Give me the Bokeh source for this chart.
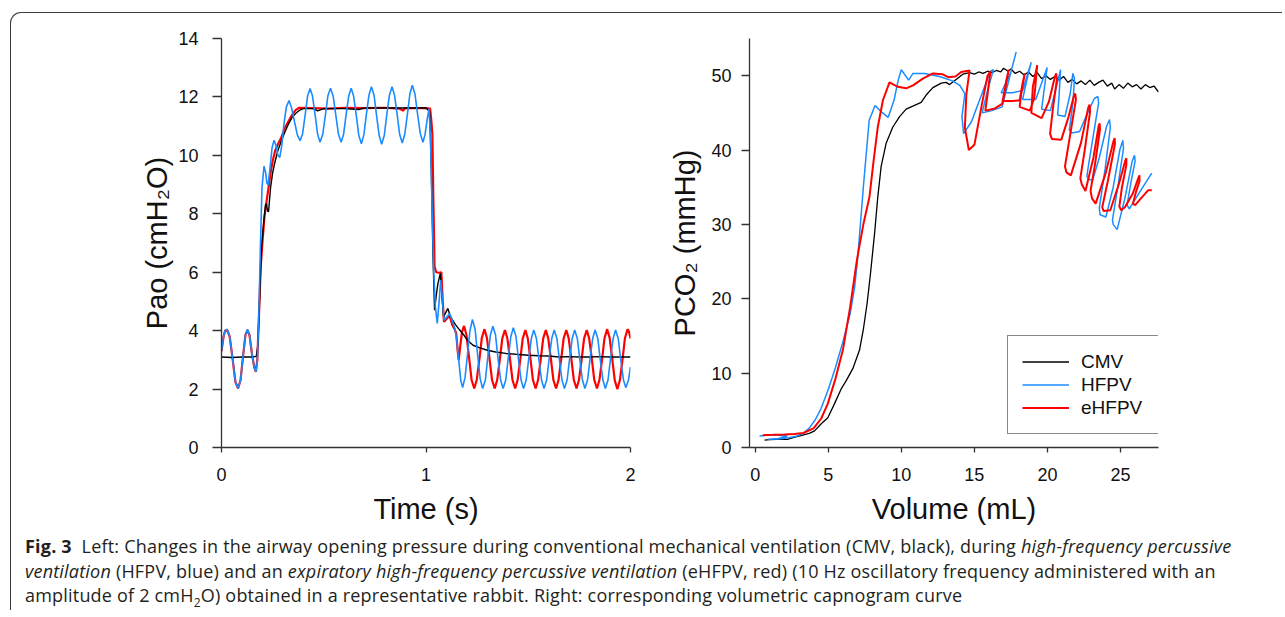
from bokeh.plotting import figure
from bokeh.layouts import row, column
from bokeh.models import Range1d, FixedTicker, Div, Legend, LegendItem
from bokeh.embed import file_html
from bokeh.resources import INLINE

# ---------------- data: left panel, airway opening pressure (cmH2O) vs time (s)
cmv_pao = [
    (0.000, 3.10), (0.050, 3.08), (0.100, 3.10), (0.150, 3.10), (0.170, 3.12), (0.178, 3.50),
    (0.186, 5.00), (0.195, 6.80), (0.205, 7.60), (0.215, 8.30), (0.220, 8.35), (0.225, 8.10),
    (0.230, 8.07), (0.240, 8.90), (0.250, 9.40), (0.260, 9.73), (0.275, 10.15), (0.293, 10.50),
    (0.310, 10.80), (0.326, 11.05), (0.345, 11.30), (0.365, 11.45), (0.383, 11.55), (0.400, 11.60),
    (0.450, 11.60), (0.470, 11.52), (0.500, 11.60), (0.600, 11.60), (0.670, 11.57), (0.700, 11.62),
    (0.800, 11.62), (0.900, 11.62), (1.000, 11.62), (1.018, 11.50), (1.026, 9.50), (1.034, 6.60),
    (1.042, 4.70), (1.050, 5.20), (1.058, 5.60), (1.070, 5.96), (1.078, 5.20), (1.086, 4.47),
    (1.095, 4.60), (1.107, 4.76), (1.118, 4.50), (1.130, 4.36), (1.146, 4.19), (1.165, 4.02),
    (1.185, 3.85), (1.203, 3.67), (1.230, 3.50), (1.260, 3.42), (1.300, 3.33), (1.341, 3.27),
    (1.390, 3.22), (1.439, 3.19), (1.500, 3.16), (1.550, 3.14), (1.600, 3.13), (1.650, 3.10),
    (1.700, 3.11), (1.750, 3.10), (1.800, 3.10), (1.850, 3.11), (1.900, 3.10), (1.950, 3.10),
    (2.000, 3.10),
]

hfpv_pao = [
    (0.000, 3.30), (0.010, 3.80), (0.018, 4.00), (0.028, 4.05), (0.040, 3.80), (0.054, 3.05),
    (0.068, 2.25), (0.081, 2.02), (0.093, 2.30), (0.105, 3.10), (0.117, 3.85), (0.127, 4.05),
    (0.137, 3.85), (0.149, 3.20), (0.160, 2.75), (0.168, 2.59), (0.175, 2.95), (0.182, 4.40),
    (0.190, 6.80), (0.198, 8.90), (0.208, 9.63), (0.216, 9.40), (0.222, 9.05), (0.228, 8.98),
    (0.237, 9.55), (0.247, 10.25), (0.257, 10.52), (0.266, 10.35), (0.276, 10.00), (0.285, 9.93),
    (0.295, 10.35), (0.305, 11.05), (0.317, 11.65), (0.330, 11.88), (0.343, 11.62), (0.357, 11.15),
    (0.371, 10.70), (0.384, 10.50), (0.396, 10.72), (0.409, 11.38), (0.421, 12.03), (0.433, 12.29),
    (0.445, 12.03), (0.458, 11.38), (0.470, 10.72), (0.482, 10.45), (0.495, 10.72), (0.508, 11.38),
    (0.520, 12.03), (0.533, 12.30), (0.546, 12.03), (0.559, 11.38), (0.572, 10.72), (0.585, 10.45),
    (0.597, 10.72), (0.609, 11.38), (0.622, 12.03), (0.634, 12.30), (0.646, 12.03), (0.659, 11.38),
    (0.671, 10.70), (0.684, 10.40), (0.696, 10.70), (0.708, 11.38), (0.721, 12.06), (0.733, 12.35),
    (0.746, 12.06), (0.758, 11.38), (0.771, 10.68), (0.783, 10.38), (0.796, 10.68), (0.808, 11.38),
    (0.821, 12.06), (0.834, 12.35), (0.846, 12.06), (0.859, 11.40), (0.871, 10.72), (0.884, 10.42),
    (0.896, 10.72), (0.909, 11.40), (0.921, 12.10), (0.933, 12.40), (0.946, 12.10), (0.959, 11.40),
    (0.972, 10.75), (0.985, 10.45), (0.995, 10.70), (1.005, 11.20), (1.015, 11.60), (1.022, 10.60),
    (1.030, 8.10), (1.038, 6.00), (1.046, 4.80), (1.055, 4.25), (1.063, 4.90), (1.072, 5.73),
    (1.080, 5.10), (1.088, 4.36), (1.100, 4.45), (1.116, 4.59), (1.128, 4.35), (1.140, 4.10),
    (1.150, 3.70), (1.160, 3.00), (1.170, 2.30), (1.179, 2.05), (1.191, 2.40), (1.203, 3.20),
    (1.215, 4.00), (1.227, 4.38), (1.240, 4.05), (1.252, 3.20), (1.265, 2.35), (1.277, 2.02),
    (1.290, 2.30), (1.302, 3.08), (1.315, 3.85), (1.327, 4.15), (1.340, 3.85), (1.352, 3.05),
    (1.365, 2.30), (1.377, 2.02), (1.390, 2.31), (1.402, 3.05), (1.415, 3.80), (1.427, 4.10),
    (1.440, 3.80), (1.452, 3.02), (1.465, 2.31), (1.477, 2.02), (1.490, 2.31), (1.502, 3.02),
    (1.515, 3.73), (1.527, 4.02), (1.540, 3.73), (1.552, 3.02), (1.565, 2.31), (1.577, 2.02),
    (1.590, 2.31), (1.602, 3.02), (1.615, 3.73), (1.627, 4.02), (1.640, 3.73), (1.652, 3.02),
    (1.665, 2.31), (1.677, 2.02), (1.690, 2.31), (1.702, 3.02), (1.715, 3.73), (1.727, 4.02),
    (1.740, 3.73), (1.752, 3.02), (1.765, 2.31), (1.777, 2.02), (1.790, 2.31), (1.802, 3.02),
    (1.815, 3.73), (1.827, 4.02), (1.840, 3.73), (1.852, 3.02), (1.865, 2.31), (1.877, 2.02),
    (1.890, 2.31), (1.902, 3.02), (1.915, 3.73), (1.927, 4.02), (1.940, 3.73), (1.952, 3.02),
    (1.965, 2.33), (1.977, 2.05), (1.990, 2.30), (2.000, 2.76),
]

ehfpv_pao = [
    (0.000, 3.30), (0.010, 3.80), (0.018, 4.00), (0.028, 4.02), (0.040, 3.80), (0.054, 3.05),
    (0.068, 2.25), (0.081, 2.02), (0.093, 2.30), (0.105, 3.10), (0.117, 3.85), (0.127, 4.02),
    (0.137, 3.85), (0.149, 3.20), (0.160, 2.75), (0.168, 2.59), (0.175, 3.00), (0.183, 4.50),
    (0.192, 6.20), (0.200, 7.00), (0.210, 7.90), (0.220, 8.40), (0.230, 8.90), (0.240, 9.40),
    (0.250, 9.80), (0.262, 10.15), (0.277, 10.40), (0.292, 10.60), (0.307, 10.90), (0.322, 11.10),
    (0.342, 11.35), (0.362, 11.55), (0.380, 11.63), (0.450, 11.62), (0.520, 11.60), (0.600, 11.63),
    (0.700, 11.62), (0.800, 11.63), (0.870, 11.60), (0.887, 11.53), (0.900, 11.62), (1.000, 11.62),
    (1.020, 11.60), (1.026, 11.20), (1.031, 10.75), (1.036, 8.50), (1.042, 6.19), (1.050, 6.00),
    (1.062, 5.98), (1.075, 6.00), (1.082, 5.00), (1.088, 4.30), (1.100, 4.40), (1.116, 4.50),
    (1.128, 4.20), (1.140, 4.05), (1.148, 3.90), (1.155, 3.30), (1.160, 2.99), (1.168, 3.50),
    (1.176, 3.95), (1.186, 4.16), (1.198, 3.85), (1.211, 3.05), (1.223, 2.31), (1.236, 2.02),
    (1.248, 2.31), (1.261, 3.02), (1.273, 3.75), (1.286, 4.05), (1.298, 3.75), (1.311, 3.02),
    (1.323, 2.31), (1.336, 2.02), (1.348, 2.31), (1.361, 3.02), (1.373, 3.73), (1.386, 4.02),
    (1.398, 3.73), (1.411, 3.02), (1.423, 2.31), (1.436, 2.02), (1.448, 2.31), (1.461, 3.02),
    (1.473, 3.73), (1.486, 4.02), (1.498, 3.73), (1.511, 3.02), (1.523, 2.31), (1.536, 2.02),
    (1.548, 2.31), (1.561, 3.02), (1.573, 3.73), (1.586, 4.02), (1.598, 3.73), (1.611, 3.02),
    (1.623, 2.31), (1.636, 2.02), (1.648, 2.31), (1.661, 3.02), (1.673, 3.73), (1.686, 4.02),
    (1.698, 3.73), (1.711, 3.02), (1.723, 2.31), (1.736, 2.02), (1.748, 2.31), (1.761, 3.02),
    (1.773, 3.73), (1.786, 4.02), (1.798, 3.73), (1.811, 3.02), (1.823, 2.31), (1.836, 2.02),
    (1.848, 2.31), (1.861, 3.02), (1.873, 3.75), (1.886, 4.05), (1.898, 3.75), (1.911, 3.02),
    (1.923, 2.30), (1.936, 2.00), (1.948, 2.30), (1.961, 3.02), (1.973, 3.75), (1.986, 4.05),
    (1.993, 3.95), (2.000, 3.73),
]

# ---------------- data: right panel, PCO2 (mmHg) vs expired volume (mL)
cmv_co2 = [
    (0.64, 1.00), (1.00, 1.05), (1.50, 1.10), (2.20, 1.08), (2.70, 1.40), (3.26, 1.66), (3.70, 1.90),
    (4.06, 2.24), (4.52, 3.20), (4.97, 4.00), (5.43, 5.90), (5.89, 7.90), (6.23, 9.00), (6.68, 10.60),
    (7.14, 13.10), (7.41, 16.00), (7.66, 19.40), (7.89, 23.40), (8.17, 28.80), (8.39, 33.70),
    (8.62, 37.80), (8.96, 40.90), (9.42, 43.10), (9.88, 44.50), (10.33, 45.50), (10.79, 45.90),
    (11.36, 46.40), (11.70, 47.40), (12.16, 48.40), (12.73, 49.00), (13.07, 49.10), (13.30, 48.80),
    (13.75, 49.50), (14.21, 50.20), (14.67, 50.40), (15.00, 50.20), (15.30, 50.50), (15.60, 50.30),
    (15.90, 50.60), (16.20, 50.40), (16.50, 50.70), (16.80, 50.50), (17.00, 51.00), (17.30, 50.60),
    (17.50, 50.90), (17.80, 50.30), (18.10, 50.60), (18.40, 50.10), (18.70, 50.50), (19.00, 49.90),
    (19.30, 50.40), (19.60, 49.60), (19.90, 50.00), (20.20, 49.50), (20.50, 49.90), (20.80, 49.40),
    (21.10, 49.90), (21.40, 49.10), (21.70, 49.50), (22.00, 48.90), (22.30, 49.30), (22.60, 48.80),
    (22.90, 49.40), (23.20, 48.70), (23.50, 49.10), (23.80, 49.40), (24.10, 48.60), (24.40, 49.00),
    (24.60, 48.20), (24.90, 48.80), (25.20, 48.30), (25.50, 49.00), (25.80, 48.50), (26.10, 48.80),
    (26.40, 48.20), (26.70, 48.80), (27.00, 48.40), (27.30, 48.60), (27.60, 47.80),
]

hfpv_co2 = [
    (0.30, 1.55), (0.90, 1.70), (1.60, 1.65), (2.20, 1.55), (1.60, 1.20), (0.90, 1.10), (1.60, 1.15),
    (2.30, 1.30), (2.80, 1.50), (3.30, 1.90), (3.70, 2.60), (4.10, 3.70), (4.50, 5.20), (5.00, 7.80),
    (5.50, 10.80), (6.00, 14.20), (6.50, 18.00), (6.80, 21.50), (7.00, 25.20), (7.20, 30.00),
    (7.40, 35.00), (7.60, 39.50), (7.80, 44.00), (8.20, 46.00), (8.60, 45.20), (9.10, 44.40),
    (9.50, 46.70), (9.80, 49.50), (10.00, 50.80), (10.50, 49.40), (10.80, 50.30), (11.60, 50.30),
    (12.60, 49.90), (13.50, 49.30), (14.00, 48.70), (14.35, 47.60), (14.15, 44.50), (14.26, 42.20),
    (14.80, 43.80), (15.60, 48.00), (16.10, 50.60), (16.30, 50.80), (15.90, 48.00), (15.53, 45.00),
    (16.20, 45.30), (16.90, 45.80), (17.50, 50.50), (17.86, 53.20), (17.50, 50.50), (16.83, 47.70),
    (17.60, 47.70), (18.30, 48.00), (18.89, 51.80), (18.60, 49.50), (18.30, 46.80), (19.20, 46.80),
    (19.98, 51.10), (19.80, 48.50), (19.60, 45.50), (20.20, 45.30), (20.90, 50.80), (20.80, 47.50),
    (20.70, 44.70), (21.20, 44.50), (21.55, 47.50), (21.74, 50.30), (21.85, 49.60), (21.75, 46.50),
    (21.50, 42.70), (21.65, 42.30), (22.20, 42.50), (22.75, 45.00), (23.20, 46.90), (23.45, 47.20),
    (23.50, 46.30), (23.10, 41.50), (22.75, 37.20), (22.70, 36.40), (22.90, 36.00), (23.10, 36.00),
    (23.55, 39.00), (24.05, 43.20), (24.25, 44.10), (24.30, 43.00), (23.95, 37.50), (23.55, 32.20),
    (23.60, 31.30), (24.00, 31.00), (24.50, 35.00), (24.95, 40.00), (25.16, 41.30), (25.20, 40.20),
    (24.85, 35.50), (24.45, 30.60), (24.50, 30.00), (24.77, 29.30), (25.30, 33.50), (25.80, 38.50),
    (25.96, 39.30), (26.00, 38.50), (25.70, 35.50), (25.45, 32.60), (25.60, 32.10), (26.30, 34.30),
    (27.14, 36.90),
]

ehfpv_co2 = [
    (0.52, 1.66), (1.20, 1.70), (2.00, 1.75), (2.70, 1.80), (3.30, 1.95), (3.99, 2.56), (4.52, 3.90),
    (4.97, 5.90), (5.50, 9.30), (6.00, 13.10), (6.50, 18.90), (6.96, 25.20), (7.41, 30.10),
    (7.82, 33.70), (8.10, 38.50), (8.39, 43.10), (8.74, 46.70), (9.19, 49.10), (9.76, 48.50),
    (10.33, 48.30), (10.80, 48.70), (11.47, 49.60), (12.16, 50.30), (12.80, 50.20), (13.20, 49.80),
    (13.70, 49.90), (14.10, 50.50), (14.67, 50.70), (14.45, 47.50), (14.35, 43.00), (14.62, 40.00),
    (15.00, 40.70), (15.50, 46.00), (15.90, 50.00), (16.10, 50.60), (15.90, 47.50), (15.75, 45.30),
    (16.40, 45.60), (16.90, 46.20), (17.20, 49.50), (17.35, 50.80), (17.10, 48.00), (16.95, 46.60),
    (17.60, 46.60), (18.10, 46.70), (18.30, 49.00), (18.45, 50.30), (18.20, 47.50), (18.10, 45.80),
    (18.80, 45.30), (19.10, 47.00), (19.30, 51.40), (19.00, 48.50), (18.90, 45.00), (19.60, 44.30),
    (20.10, 46.50), (20.50, 49.80), (20.60, 50.30), (20.65, 49.50), (20.40, 46.00), (20.18, 42.20),
    (20.30, 41.50), (20.95, 41.40), (21.45, 44.50), (21.80, 47.20), (21.90, 47.60), (21.95, 46.80),
    (21.55, 42.00), (21.20, 37.80), (21.30, 37.00), (21.60, 36.60), (22.30, 41.00), (22.78, 45.60),
    (22.88, 46.10), (22.92, 45.20), (22.55, 40.00), (22.25, 36.20), (22.35, 35.40), (22.60, 34.50),
    (23.15, 39.00), (23.50, 43.20), (23.57, 43.60), (23.60, 42.80), (23.25, 38.00), (22.95, 34.50),
    (23.05, 33.50), (23.30, 32.80), (24.00, 37.00), (24.52, 41.20), (24.60, 41.60), (24.62, 40.80),
    (24.15, 36.00), (23.75, 32.30), (23.85, 31.80), (24.30, 31.90), (24.90, 35.50), (25.33, 38.60),
    (25.40, 38.90), (25.40, 38.00), (25.10, 35.00), (24.92, 32.40), (25.05, 31.90), (25.30, 32.30),
    (25.85, 34.20), (26.25, 36.40), (26.30, 36.60), (26.30, 35.80), (26.05, 34.30), (25.85, 32.80),
    (26.00, 32.60), (26.40, 33.50), (26.90, 34.60), (27.14, 34.60),
]

left_xticks = [0, 1, 2]
left_yticks = [0, 2, 4, 6, 8, 10, 12, 14]
right_xticks = [0, 5, 10, 15, 20, 25]
right_yticks = [0, 10, 20, 30, 40, 50]
series_names = ["CMV", "HFPV", "eHFPV"]

BLACK = "#000000"
BLUE = "#1a8cff"
RED = "#ff0000"
AXC = "#333333"
FONT = "Liberation Sans"


def xs(pairs):
    return [a for a, b in pairs]


def ys(pairs):
    return [b for a, b in pairs]


def style(p, xt, yt):
    p.outline_line_color = None
    p.grid.visible = False
    p.background_fill_color = None
    p.border_fill_color = None
    for ax in (p.xaxis[0], p.yaxis[0]):
        ax.axis_line_color = AXC
        ax.axis_line_width = 1.3
        ax.major_tick_line_color = AXC
        ax.major_tick_line_width = 1.3
        ax.major_tick_in = 0
        ax.minor_tick_out = 0
        ax.minor_tick_in = 0
        ax.major_label_text_font = FONT
        ax.major_label_text_font_size = "18px"
        ax.major_label_text_color = "#111111"
        ax.axis_label_text_font = FONT
        ax.axis_label_text_font_size = "29px"
        ax.axis_label_text_font_style = "normal"
        ax.axis_label_text_color = "#111111"
    p.xaxis[0].ticker = FixedTicker(ticks=xt)
    p.yaxis[0].ticker = FixedTicker(ticks=yt)
    p.xaxis[0].major_tick_out = 5
    p.yaxis[0].major_tick_out = 9
    p.xaxis[0].major_label_standoff = 15
    p.yaxis[0].major_label_standoff = 14
    p.xaxis[0].axis_label_standoff = 9
    p.yaxis[0].axis_label_standoff = 2


p1 = figure(width=638, height=520, x_range=Range1d(0, 2), y_range=Range1d(0, 14),
            output_backend="svg", toolbar_location=None,
            min_border_left=210, min_border_right=19, min_border_top=25, min_border_bottom=86)
style(p1, left_xticks, left_yticks)
p1.xaxis[0].axis_label = "Time (s)"
p1.yaxis[0].axis_label = "Pao (cmH\u2082O)"
p1.line(xs(ehfpv_pao), ys(ehfpv_pao), line_color=RED, line_width=2.2)
p1.line(xs(cmv_pao), ys(cmv_pao), line_color=BLACK, line_width=1.4)
p1.line(xs(hfpv_pao), ys(hfpv_pao), line_color=BLUE, line_width=1.6)

p2 = figure(width=633, height=520, x_range=Range1d(-0.39, 27.6), y_range=Range1d(0, 55),
            output_backend="svg", toolbar_location=None,
            min_border_left=100, min_border_right=124, min_border_top=25, min_border_bottom=86)
style(p2, right_xticks, right_yticks)
p2.yaxis[0].major_tick_out = 8
p2.yaxis[0].major_label_standoff = 10
p2.yaxis[0].axis_label_standoff = 7
p2.xaxis[0].axis_label = "Volume (mL)"
p2.yaxis[0].axis_label = "PCO\u2082 (mmHg)"
r_b = p2.line(xs(cmv_co2), ys(cmv_co2), line_color=BLACK, line_width=1.3)
r_h = p2.line(xs(hfpv_co2), ys(hfpv_co2), line_color=BLUE, line_width=1.5)
r_e = p2.line(xs(ehfpv_co2), ys(ehfpv_co2), line_color=RED, line_width=2.0)

legend = Legend(items=[LegendItem(label=series_names[0], renderers=[r_b]),
                       LegendItem(label=series_names[1], renderers=[r_h]),
                       LegendItem(label=series_names[2], renderers=[r_e])],
                location=(258, 13), orientation="vertical")
legend.label_text_font = FONT
legend.label_text_font_size = "19px"
legend.label_text_color = "#111111"
legend.border_line_color = "#111111"
legend.border_line_width = 1.3
legend.background_fill_alpha = 1.0
legend.padding = 14
legend.spacing = 0
legend.margin = 0
legend.label_height = 23
legend.glyph_height = 23
legend.glyph_width = 47
legend.label_standoff = 12
legend.label_width = 70
p2.add_layout(legend)

caption_html = (
    '<div style="font-family:\'Open Sans\';font-size:18px;line-height:24.5px;letter-spacing:0.2px;'
    'color:#231f20;white-space:nowrap;">'
    '<b>Fig. 3</b>&nbsp;&nbsp;Left: Changes in the airway opening pressure during conventional '
    'mechanical ventilation (CMV, black), during <i>high-frequency percussive</i><br>'
    '<i>ventilation</i> (HFPV, blue) and an <i>expiratory high-frequency percussive ventilation</i> '
    '(eHFPV, red) (10 Hz oscillatory frequency administered with an<br>'
    'amplitude of 2 cmH<sub style="font-size:12px;line-height:0;">2</sub>O) obtained in a '
    'representative rabbit. Right: corresponding volumetric capnogram curve</div>'
)
caption = Div(text=caption_html, width=1250, height=76, margin=(1, 0, 0, 14))

root = column(row(p1, p2), caption,
              styles={"border-top": "1.4px solid #3a3a3a", "border-left": "1.4px solid #3a3a3a",
                      "border-top-left-radius": "11px", "margin-top": "12px", "margin-left": "10px"})

open("out.html", "w").write(file_html(root, INLINE))
